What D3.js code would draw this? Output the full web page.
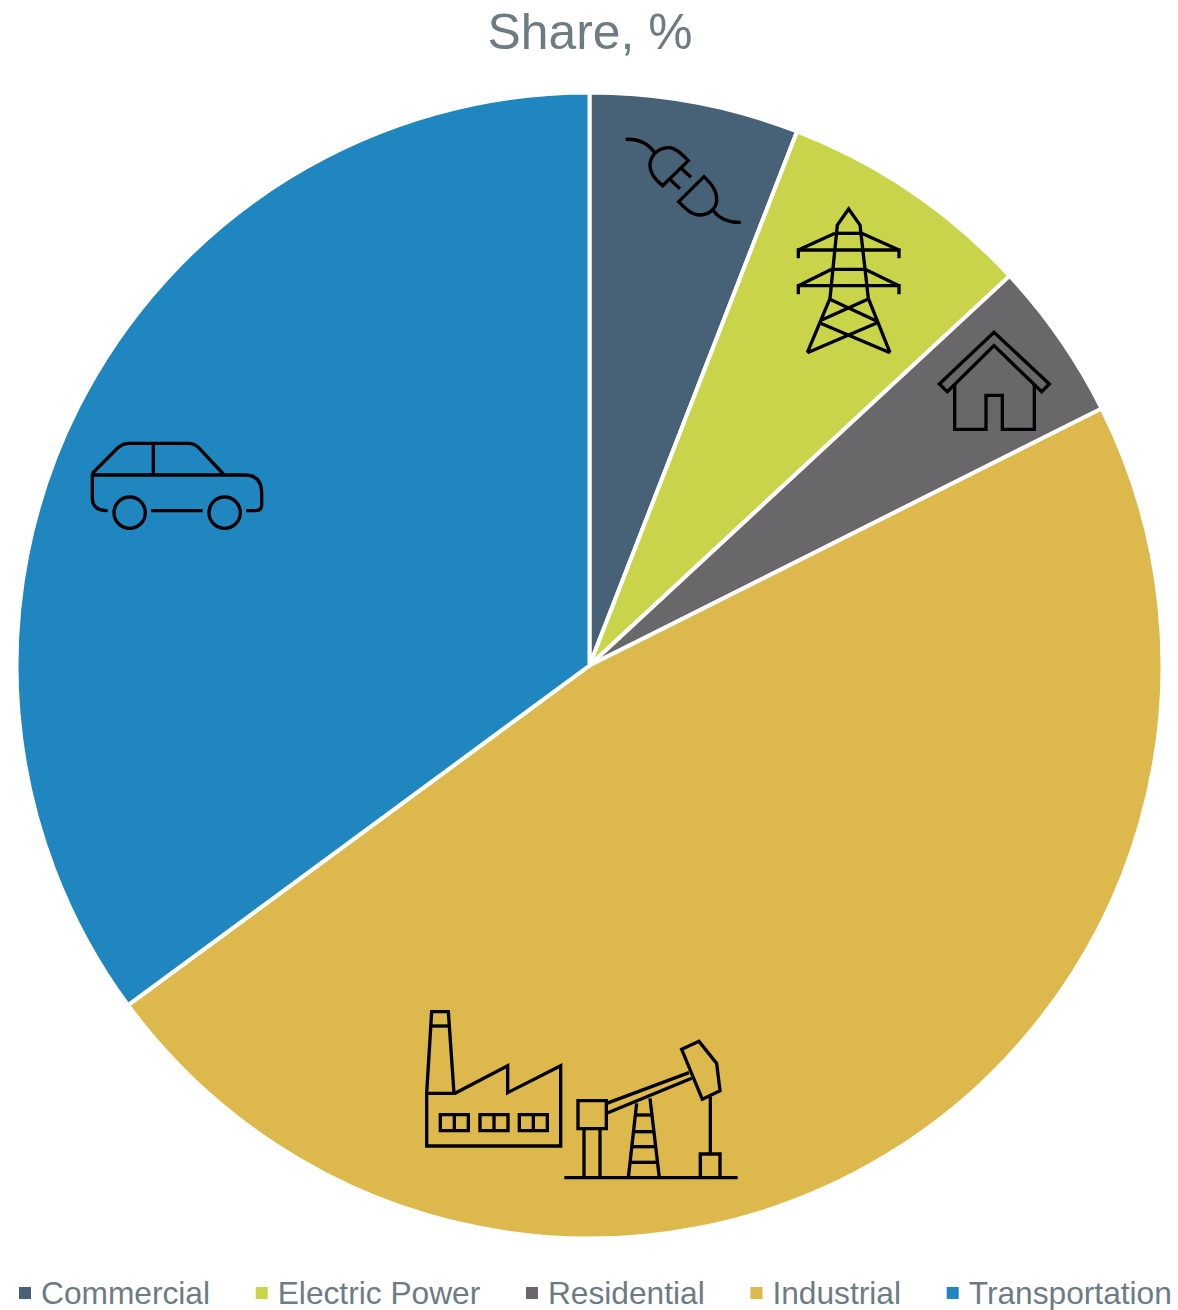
<!DOCTYPE html>
<html>
<head>
<meta charset="utf-8">
<script src="https://cdn.jsdelivr.net/npm/d3@7/dist/d3.min.js"></script>
<style>
  html, body { margin: 0; padding: 0; background: #fff; overflow: hidden; }
  svg { display: block; }
  text { font-family: "Liberation Sans", Arial, sans-serif; fill: #6d7b82; }
  .icon path, .icon circle { fill: none; stroke: #000; stroke-width: 10; stroke-linejoin: miter; }
</style>
</head>
<body>
<svg id="chart" width="1178" height="1310"></svg>
<script>
const chartTitle = "Share, %";
const sectors = ["Commercial", "Electric Power", "Residential", "Industrial", "Transportation"];
const shares = [5.9, 7.2, 4.5, 47.3, 35.1];
const sectorColors = ["#476176", "#cad44b", "#6a676a", "#ddb84c", "#1f86bf"];

const svg = d3.select("#chart");
const cx = 589.5, cy = 665.5, outerRadius = 573;

svg.append("text")
  .attr("x", 590).attr("y", 49)
  .attr("text-anchor", "middle")
  .attr("font-size", 49.8)
  .text(chartTitle);

// Pie slices, clockwise from twelve o'clock
const color = d3.scaleOrdinal().domain(sectors).range(sectorColors);
const pie = d3.pie().value((d, i) => shares[i]).sort(null);
const arc = d3.arc().innerRadius(0).outerRadius(outerRadius);

svg.append("g")
  .attr("transform", `translate(${cx},${cy})`)
  .selectAll("path")
  .data(pie(sectors))
  .join("path")
  .attr("d", arc)
  .attr("fill", d => color(d.data))
  .attr("stroke", "#fff")
  .attr("stroke-width", 4);

// Line-art pictograms, each drawn on a 3x grid and scaled down by a third
const third = (x, y) => `translate(${x},${y}) scale(${1 / 3})`;
const rect = (x0, y0, x1, y1) => `M${x0},${y0}H${x1}V${y1}H${x0}Z`;
const icons = [
  { at: [600, 120], paths: [
    "M77,58C115,56 145,72 163,97",
    "M265,122L188,197C160,175 148,155 150,130C155,100 180,82 210,83C228,85 245,102 265,122Z",
    "M245,146L273,172", "M212,180L240,206",
    "M312,170L236,245C255,265 275,285 300,285C330,285 352,262 350,235C350,210 332,190 312,170Z",
    "M340,272C358,295 388,308 422,307"
  ], circles: [] },
  { at: [780, 200], paths: [
    "M150,295L172,75L206,27L240,75L265,295",
    "M150,295L82,458", "M265,295L330,458",
    "M165,100H245", "M55,175V150H357V175", "M165,100L55,150", "M245,100L357,150",
    "M155,208H255", "M55,283V257H357V283", "M155,208L55,257", "M255,208L357,257",
    "M148,297L288,362", "M265,297L125,360", "M118,368L330,458", "M292,368L82,458"
  ], circles: [] },
  { at: [780, 200], paths: [
    "M478,552L642,397L808,552L785,575L642,437L502,575Z",
    "M524,553V688H618V586H667V688H763V553"
  ], circles: [] },
  { at: [80, 430], paths: [
    "M37,130L115,52Q130,40 145,40H325Q345,40 358,55L430,132",
    "M37,135H495Q545,135 545,190V225Q545,242 525,242H498",
    "M37,130V205Q37,242 83,242",
    "M213,242H368", "M220,40V135"
  ], circles: [[149, 248, 47], [434, 248, 47]] },
  { at: [415, 1000], paths: [
    "M35,280L50,35H100L117,280", "M50,78H105",
    "M35,280H120L278,197V278L437,197V438H35Z",
    rect(76, 344, 160, 392), "M118,344V392",
    rect(195, 344, 279, 392), "M237,344V392",
    rect(313, 344, 397, 392), "M355,344V392",
    "M448,533H968",
    rect(489, 302, 574, 386), "M507,386V533", "M555,386V533",
    "M575,310L822,218", "M575,340L830,235",
    "M800,148L852,124L905,190L915,272L862,298Z",
    "M886,290V462", "M856,533V462H915V533",
    "M665,310L640,533", "M705,295L733,533",
    "M665,345H710", "M655,395H715", "M650,440H722", "M645,487H728"
  ], circles: [] }
];

const iconGroups = svg.append("g").selectAll("g.icon")
  .data(icons)
  .join("g")
  .attr("class", "icon")
  .attr("transform", d => third(d.at[0], d.at[1]));
iconGroups.selectAll("path").data(d => d.paths).join("path").attr("d", d => d);
iconGroups.selectAll("circle").data(d => d.circles).join("circle")
  .attr("cx", d => d[0]).attr("cy", d => d[1]).attr("r", d => d[2]);

// Legend row: entries flow left to right using measured label widths
const swatch = 12, swatchGap = 10, entryGap = 45.7;
let legendX = 19;
const legend = svg.append("g");
sectors.forEach(name => {
  legend.append("rect")
    .attr("x", legendX).attr("y", 1287)
    .attr("width", swatch).attr("height", swatch)
    .attr("fill", color(name));
  const label = legend.append("text")
    .attr("x", legendX + swatch + swatchGap).attr("y", 1304)
    .attr("font-size", 31.7)
    .text(name);
  legendX += swatch + swatchGap + label.node().getComputedTextLength() + entryGap;
});
</script>
</body>
</html>
